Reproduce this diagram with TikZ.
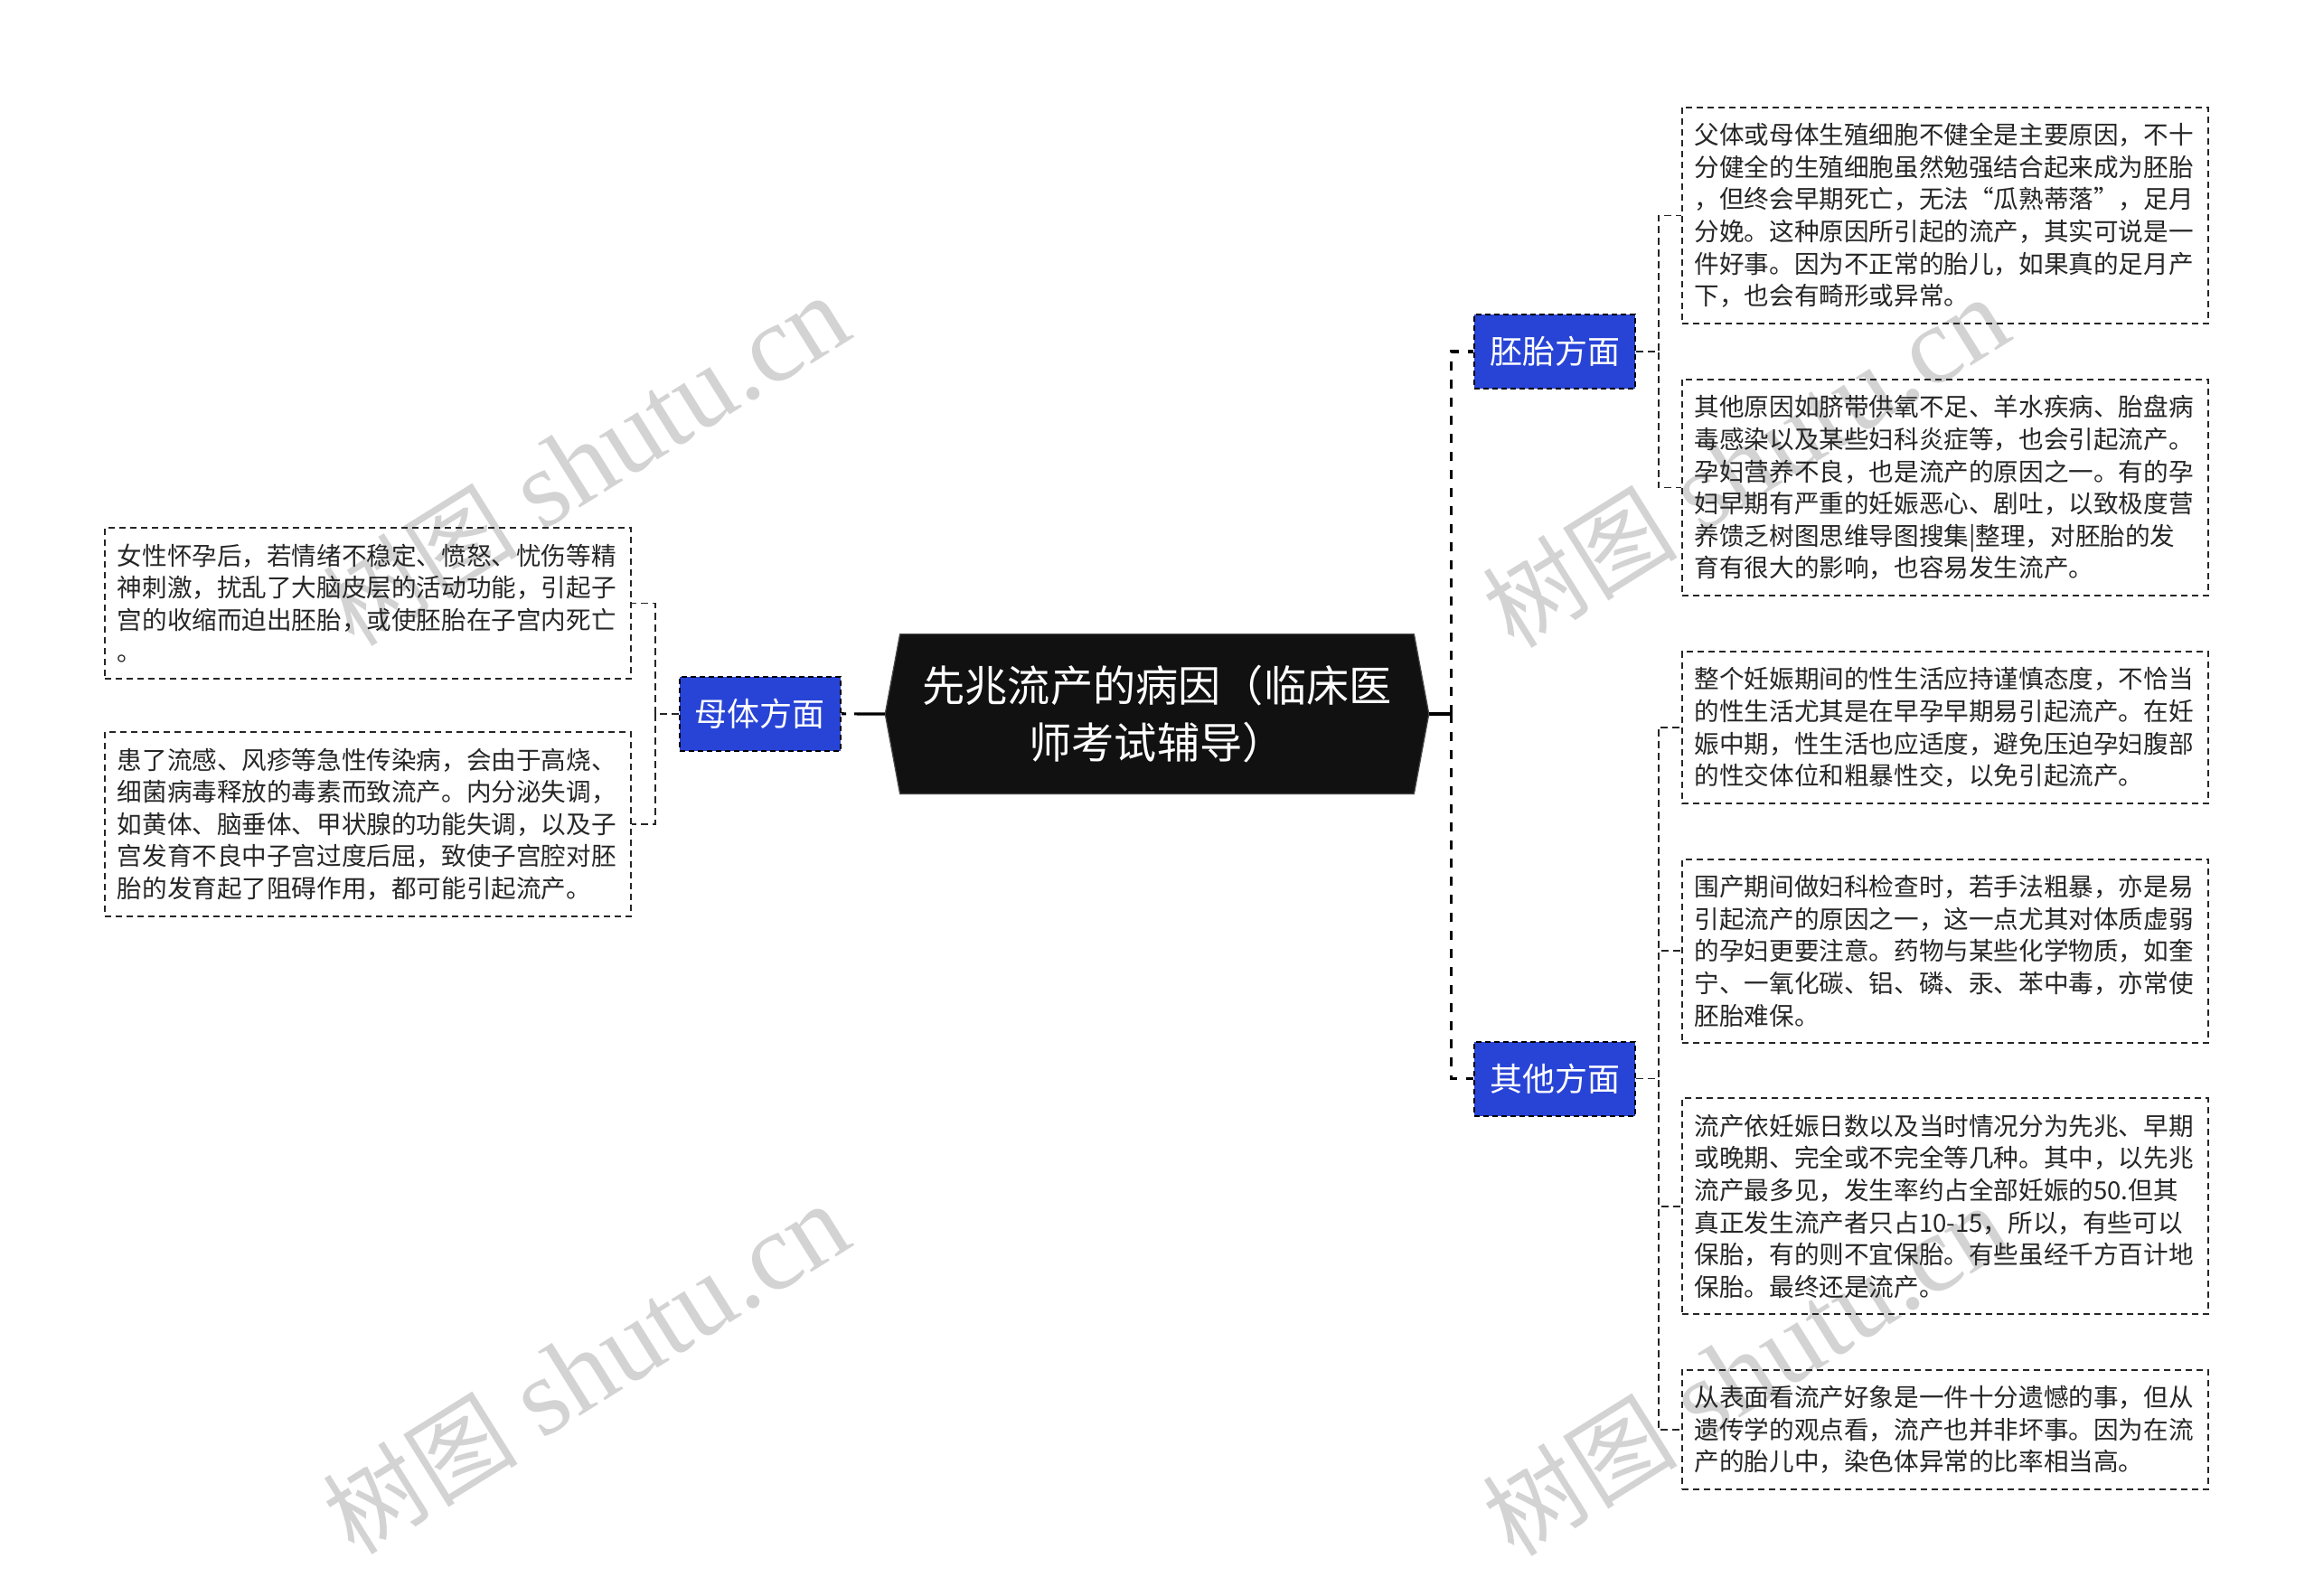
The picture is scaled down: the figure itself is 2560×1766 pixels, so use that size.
\documentclass[tikz,border=0pt]{standalone}
\usepackage{fontspec}
\setmainfont{Noto Sans CJK SC}
\newfontfamily\wmfont{Liberation Serif}
\usepackage{tikz}
\usetikzlibrary{positioning, calc, backgrounds}

\definecolor{topicfill}{HTML}{111111}
\definecolor{catblue}{RGB}{40,68,214}
\definecolor{wmgray}{HTML}{D3D3D3}

\begin{document}
\begin{tikzpicture}[
        x=0.5pt, y=-0.5pt,
        node distance=29.75pt and 25pt,
        topicbox/.style={minimum width=284pt, minimum height=88pt, inner sep=0pt, align=center, text=white, font=\fontsize{23.6pt}{31.5pt}\selectfont},
        hexbox/.style={fill=topicfill, draw=black!70, line width=0.6pt},
        cat/.style={rectangle, draw=black, dash pattern=on 3pt off 2pt, line width=1pt, fill=catblue, text=white, minimum width=89pt, minimum height=41pt, font=\fontsize{18pt}{22pt}\selectfont},
        leaf/.style={rectangle, draw=black!85, dash pattern=on 3.5pt off 2.5pt, line width=1pt, text width=277pt, inner xsep=7pt, inner ysep=8.8pt, align=left, text=black!85, font=\fontsize{13.8pt}{17.8pt}\selectfont},
        trunk/.style={line width=1.6pt, black},
        limb/.style={line width=1.6pt, black, dash pattern=on 5pt off 5pt},
        twig/.style={line width=0.9pt, black!85, dash pattern=on 4pt off 2.5pt},
        wmark/.style={text=wmgray, rotate=32, font=\fontsize{61pt}{64pt}\selectfont}
    ]
        \useasboundingbox (0,0) rectangle (2560,1766);

        % watermarks
        \foreach \wx/\wy [count=\i] in {648/510, 1931/512, 648/1515, 1931/1517}
            \node (wm\i) [wmark] at (\wx,\wy) {{\fontsize{54pt}{60pt}\selectfont 树图} {\wmfont shutu.cn}};

        % 1. Central topic
        \node (topic) [topicbox] at (1280,790) {先兆流产的病因（临床医\\师考试辅导）};
        \coordinate (topic-w) at ([xshift=-8.2pt]topic.west);
        \coordinate (topic-e) at ([xshift=8.2pt]topic.east);
        \begin{scope}[on background layer]
            \filldraw [hexbox] (topic.north west) -- (topic.north east) -- (topic-e) -- (topic.south east) -- (topic.south west) -- (topic-w) -- cycle;
        \end{scope}

        % 2. Left branch
        \node (mbox1) [leaf, anchor=north east] at (698.8,583) {女性怀孕后，若情绪不稳定、愤怒、忧伤等精\\神刺激，扰乱了大脑皮层的活动功能，引起子\\宫的收缩而迫出胚胎，或使胚胎在子宫内死亡\\。};
        \node (mbox2) [leaf, below=28.5pt of mbox1] {患了流感、风疹等急性传染病，会由于高烧、\\细菌病毒释放的毒素而致流产。内分泌失调，\\如黄体、脑垂体、甲状腺的功能失调，以及子\\宫发育不良中子宫过度后屈，致使子宫腔对胚\\胎的发育起了阻碍作用，都可能引起流产。};
        \node (mother) [cat, right=26pt of $(mbox1.east)!0.5!(mbox2.east)$] {母体方面};

        % 3. Right branch
        \node (ebox1) [leaf, anchor=north west] at (1859.6,117.6) {父体或母体生殖细胞不健全是主要原因，不十\\分健全的生殖细胞虽然勉强结合起来成为胚胎\\，但终会早期死亡，无法“瓜熟蒂落”，足月\\分娩。这种原因所引起的流产，其实可说是一\\件好事。因为不正常的胎儿，如果真的足月产\\下，也会有畸形或异常。};
        \node (ebox2) [leaf, below=of ebox1] {其他原因如脐带供氧不足、羊水疾病、胎盘病\\毒感染以及某些妇科炎症等，也会引起流产。\\孕妇营养不良，也是流产的原因之一。有的孕\\妇早期有严重的妊娠恶心、剧吐，以致极度营\\养馈乏树图思维导图搜集|整理，对胚胎的发\\育有很大的影响，也容易发生流产。};
        \node (obox1) [leaf, below=of ebox2] {整个妊娠期间的性生活应持谨慎态度，不恰当\\的性生活尤其是在早孕早期易引起流产。在妊\\娠中期，性生活也应适度，避免压迫孕妇腹部\\的性交体位和粗暴性交，以免引起流产。};
        \node (obox2) [leaf, below=of obox1] {围产期间做妇科检查时，若手法粗暴，亦是易\\引起流产的原因之一，这一点尤其对体质虚弱\\的孕妇更要注意。药物与某些化学物质，如奎\\宁、一氧化碳、铝、磷、汞、苯中毒，亦常使\\胚胎难保。};
        \node (obox3) [leaf, below=of obox2] {流产依妊娠日数以及当时情况分为先兆、早期\\或晚期、完全或不完全等几种。其中，以先兆\\流产最多见，发生率约占全部妊娠的50.但其\\真正发生流产者只占10-15，所以，有些可以\\保胎，有的则不宜保胎。有些虽经千方百计地\\保胎。最终还是流产。};
        \node (obox4) [leaf, below=of obox3] {从表面看流产好象是一件十分遗憾的事，但从\\遗传学的观点看，流产也并非坏事。因为在流\\产的胎儿中，染色体异常的比率相当高。};
        \node (embryo) [cat, left=24.8pt of $(ebox1.west)!0.5!(ebox2.west)$] {胚胎方面};
        \node (other) [cat, left=24.8pt of $(obox1.west)!0.5!(obox4.west)$] {其他方面};

        % Connections
        \draw [trunk, dash pattern=on 17pt off 4.5pt] (topic-w) -- (mother.east);
        \coordinate (spine) at ($(topic-e)!0.5!(embryo.west |- topic-e)$);
        \draw [trunk] (topic-e) -- (spine);
        \draw [limb] (spine) |- (embryo.west);
        \draw [limb] (spine) |- (other.west);

        \foreach \b in {mbox1, mbox2}
            \draw [twig] (mother.west) -| ($(mother.west)!0.5!(\b.east)$) |- (\b.east);
        \foreach \b in {ebox1, ebox2}
            \draw [twig] (embryo.east) -| ($(embryo.east)!0.5!(\b.west)$) |- (\b.west);
        \foreach \b in {obox1, obox2, obox3, obox4}
            \draw [twig] (other.east) -| ($(other.east)!0.5!(\b.west)$) |- (\b.west);
    \end{tikzpicture}
\end{document}
